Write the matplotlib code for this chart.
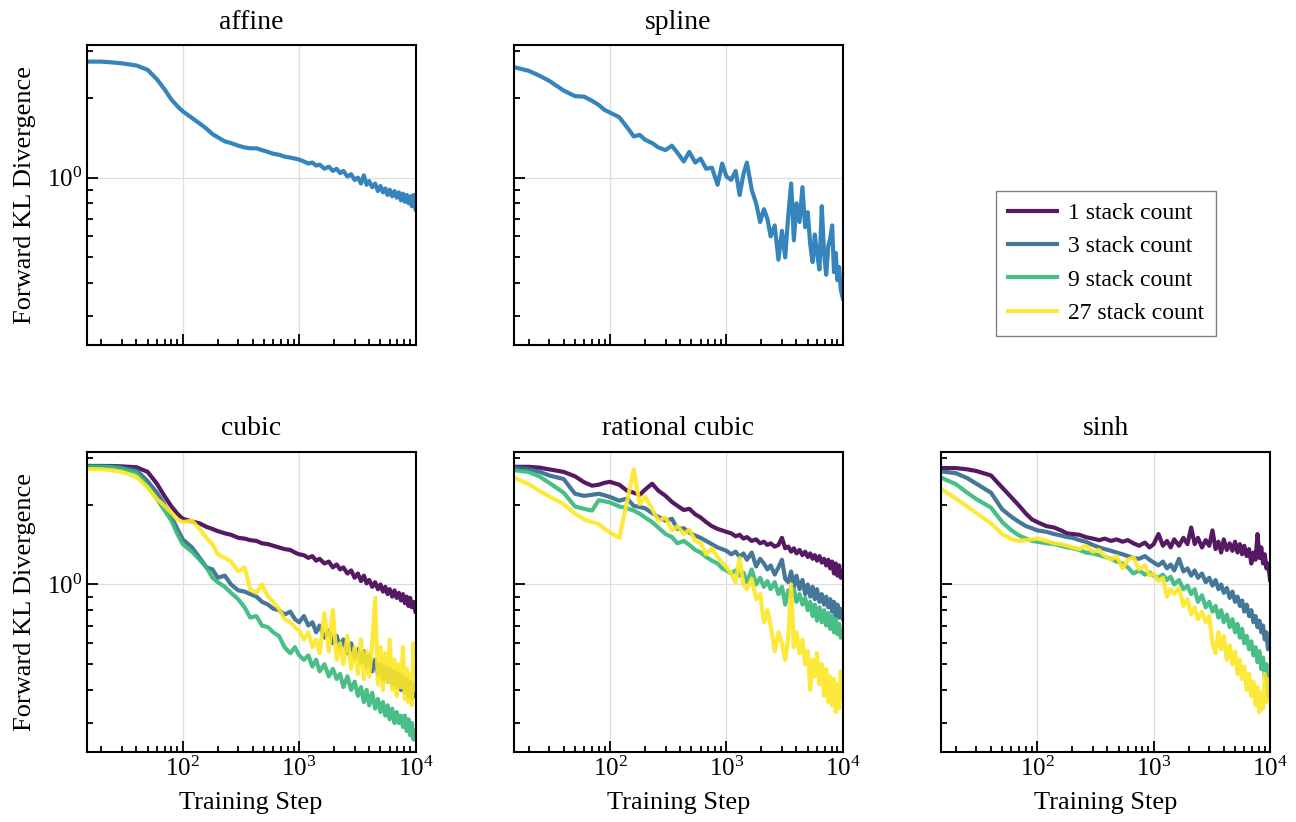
import numpy as np
import matplotlib
matplotlib.use("Agg")
import matplotlib.pyplot as plt

plt.rcParams["font.family"] = "serif"
plt.rcParams["font.serif"] = ["Liberation Serif", "DejaVu Serif"]
plt.rcParams["mathtext.fontset"] = "stix"

# training steps at which the KL was logged
steps = [15, 20, 25, 30, 40, 50, 60, 70, 80, 90, 100,
         120, 140, 160, 180, 200, 230, 260, 300, 340, 380, 430, 480, 540, 600,
         670, 750, 840, 920, 1000,
         1100, 1200, 1300, 1400, 1500, 1650, 1800, 1950, 2100, 2250, 2400, 2600,
         2800, 3000, 3200, 3400, 3600, 3800, 4000, 4250, 4500, 4750, 5000, 5250,
         5500, 5750, 6000, 6300, 6600, 6900, 7200, 7500, 7800, 8100, 8400, 8700,
         9000, 9300, 9600, 10000]

# single-flow baselines
affine = [2.74, 2.74, 2.72, 2.70, 2.65, 2.55, 2.35, 2.15, 1.97, 1.86, 1.78,
          1.68, 1.60, 1.53, 1.46, 1.42, 1.37, 1.35, 1.32, 1.30, 1.29, 1.29, 1.27, 1.25, 1.23,
          1.22, 1.20, 1.19, 1.18, 1.17,
          1.15, 1.13, 1.14, 1.11, 1.12, 1.08, 1.10, 1.06, 1.08, 1.04, 1.06, 1.01,
          1.03, 0.98, 1.00, 0.95, 1.02, 0.94, 0.97, 0.92, 0.95, 0.89, 0.93, 0.88,
          0.91, 0.86, 0.90, 0.85, 0.89, 0.84, 0.88, 0.82, 0.87, 0.81, 0.86, 0.80,
          0.85, 0.78, 0.86, 0.76]
spline = [2.61, 2.53, 2.42, 2.32, 2.13, 2.03, 2.02, 1.95, 1.88, 1.80, 1.76,
          1.69, 1.55, 1.43, 1.45, 1.39, 1.35, 1.30, 1.27, 1.32, 1.24, 1.15, 1.25, 1.14, 1.18,
          1.08, 1.09, 0.94, 1.13, 1.01,
          0.98, 1.06, 0.86, 1.03, 1.14, 0.90, 0.80, 0.68, 0.76, 0.70, 0.60, 0.66,
          0.49, 0.63, 0.50, 0.72, 0.95, 0.58, 0.80, 0.68, 0.92, 0.65, 0.74, 0.56,
          0.48, 0.61, 0.52, 0.45, 0.78, 0.52, 0.43, 0.55, 0.59, 0.66, 0.44, 0.52,
          0.41, 0.46, 0.38, 0.35]

stack_counts = [1, 3, 9, 27]

cubic_1 = [2.80, 2.80, 2.80, 2.79, 2.77, 2.66, 2.40, 2.15, 1.97, 1.85, 1.77,
           1.73, 1.70, 1.65, 1.62, 1.59, 1.56, 1.54, 1.50, 1.49, 1.47, 1.46, 1.43, 1.42, 1.40,
           1.38, 1.36, 1.35, 1.32, 1.30,
           1.29, 1.26, 1.28, 1.23, 1.25, 1.20, 1.22, 1.16, 1.19, 1.14, 1.16, 1.10,
           1.13, 1.06, 1.10, 1.03, 1.08, 1.01, 1.04, 0.98, 1.02, 0.96, 1.00, 0.94,
           0.98, 0.92, 0.96, 0.90, 0.95, 0.89, 0.93, 0.87, 0.92, 0.85, 0.90, 0.83,
           0.89, 0.82, 0.86, 0.79]
cubic_3 = [2.80, 2.80, 2.79, 2.76, 2.70, 2.45, 2.22, 2.00, 1.80, 1.62, 1.48,
           1.38, 1.26, 1.16, 1.14, 1.06, 1.08, 1.00, 0.95, 0.94, 0.92, 0.90, 0.86, 0.84, 0.81,
           0.80, 0.77, 0.79, 0.74, 0.72,
           0.76, 0.70, 0.72, 0.66, 0.70, 0.63, 0.67, 0.60, 0.64, 0.58, 0.62, 0.55,
           0.60, 0.53, 0.57, 0.51, 0.56, 0.49, 0.54, 0.47, 0.52, 0.46, 0.50, 0.44,
           0.49, 0.43, 0.48, 0.42, 0.47, 0.41, 0.46, 0.40, 0.45, 0.39, 0.44, 0.38,
           0.43, 0.37, 0.42, 0.38]
cubic_9 = [2.78, 2.78, 2.77, 2.74, 2.65, 2.35, 2.10, 1.90, 1.74, 1.55, 1.42,
           1.33, 1.24, 1.16, 1.06, 1.02, 0.98, 0.93, 0.88, 0.82, 0.75, 0.76, 0.70, 0.69, 0.66,
           0.64, 0.58, 0.55, 0.58, 0.54,
           0.52, 0.54, 0.49, 0.52, 0.47, 0.50, 0.45, 0.48, 0.44, 0.46, 0.41, 0.45,
           0.40, 0.43, 0.38, 0.41, 0.36, 0.40, 0.35, 0.39, 0.34, 0.37, 0.33, 0.36,
           0.32, 0.35, 0.31, 0.34, 0.30, 0.33, 0.30, 0.32, 0.29, 0.32, 0.28, 0.31,
           0.27, 0.30, 0.26, 0.28]
cubic_27 = [2.73, 2.72, 2.70, 2.66, 2.55, 2.32, 2.10, 1.98, 1.86, 1.76, 1.72,
            1.74, 1.62, 1.50, 1.42, 1.30, 1.26, 1.22, 1.12, 1.16, 0.96, 0.93, 1.00, 0.90, 0.86,
            0.81, 0.74, 0.72, 0.69, 0.67,
            0.62, 0.66, 0.58, 0.62, 0.55, 0.78, 0.56, 0.80, 0.52, 0.60, 0.50, 0.64,
            0.48, 0.58, 0.46, 0.62, 0.44, 0.56, 0.45, 0.60, 0.89, 0.42, 0.58, 0.40,
            0.55, 0.43, 0.62, 0.40, 0.52, 0.38, 0.50, 0.41, 0.58, 0.37, 0.48, 0.36,
            0.46, 0.35, 0.60, 0.40]

rq_1 = [2.78, 2.78, 2.76, 2.72, 2.66, 2.56, 2.43, 2.36, 2.38, 2.42, 2.44,
        2.38, 2.26, 2.22, 2.18, 2.28, 2.40, 2.26, 2.16, 2.05, 1.98, 1.91, 1.93, 1.84, 1.79,
        1.72, 1.66, 1.62, 1.60, 1.58,
        1.56, 1.52, 1.54, 1.49, 1.51, 1.46, 1.48, 1.43, 1.45, 1.41, 1.43, 1.39,
        1.41, 1.50, 1.37, 1.39, 1.33, 1.37, 1.31, 1.35, 1.29, 1.33, 1.27, 1.31,
        1.25, 1.29, 1.23, 1.28, 1.21, 1.25, 1.18, 1.24, 1.15, 1.22, 1.10, 1.20,
        1.08, 1.18, 1.06, 1.12]
rq_3 = [2.76, 2.73, 2.66, 2.58, 2.50, 2.20, 2.16, 2.18, 2.20, 2.17, 2.14,
        2.07, 2.11, 1.98, 1.96, 1.94, 1.86, 1.80, 1.74, 1.77, 1.62, 1.63, 1.57, 1.53, 1.50,
        1.46, 1.42, 1.38, 1.36, 1.34,
        1.30, 1.33, 1.27, 1.31, 1.24, 1.32, 1.17, 1.25, 1.20, 1.14, 1.18, 1.09,
        1.16, 1.24, 1.05, 1.02, 1.12, 0.98, 1.08, 0.96, 1.04, 0.92, 1.00, 0.90,
        0.98, 0.88, 0.96, 0.86, 0.92, 0.84, 0.90, 0.82, 0.88, 0.79, 0.86, 0.76,
        0.84, 0.75, 0.81, 0.74]
rq_9 = [2.70, 2.66, 2.55, 2.42, 2.22, 1.97, 1.93, 1.90, 2.08, 2.06, 2.04,
        1.97, 1.94, 1.90, 1.85, 1.79, 1.72, 1.64, 1.55, 1.51, 1.43, 1.46, 1.41, 1.35, 1.32,
        1.27, 1.23, 1.20, 1.15, 1.13,
        1.10, 1.13, 1.08, 1.11, 1.02, 1.14, 1.00, 1.06, 0.98, 1.03, 0.96, 1.02,
        0.92, 0.98, 0.84, 0.95, 0.90, 0.96, 0.86, 0.92, 0.84, 0.89, 0.80, 0.86,
        0.76, 0.84, 0.73, 0.82, 0.72, 0.80, 0.70, 0.78, 0.68, 0.76, 0.66, 0.74,
        0.65, 0.71, 0.63, 0.66]
rq_27 = [2.53, 2.39, 2.25, 2.15, 2.01, 1.85, 1.76, 1.72, 1.69, 1.62, 1.57,
         1.50, 2.05, 2.72, 2.01, 2.15, 1.93, 1.74, 1.79, 1.60, 1.66, 1.55, 1.61, 1.46, 1.44,
         1.30, 1.37, 1.27, 1.21, 1.16,
         1.10, 1.02, 1.26, 1.00, 0.96, 1.05, 0.88, 0.92, 0.72, 0.80, 0.70, 0.56,
         0.66, 0.60, 0.52, 0.63, 1.00, 0.58, 0.66, 0.55, 0.62, 0.50, 0.56, 0.40,
         0.52, 0.45, 0.55, 0.42, 0.50, 0.38, 0.48, 0.36, 0.45, 0.35, 0.44, 0.33,
         0.42, 0.34, 0.47, 0.37]

sinh_1 = [2.75, 2.75, 2.72, 2.68, 2.58, 2.32, 2.13, 1.98, 1.85, 1.76, 1.72,
          1.66, 1.64, 1.60, 1.56, 1.55, 1.54, 1.51, 1.49, 1.47, 1.49, 1.46, 1.48, 1.45, 1.47,
          1.43, 1.40, 1.44, 1.38, 1.42,
          1.55, 1.40, 1.46, 1.38, 1.48, 1.40, 1.50, 1.42, 1.64, 1.42, 1.50, 1.38,
          1.47, 1.40, 1.60, 1.36, 1.45, 1.32, 1.48, 1.35, 1.43, 1.34, 1.45, 1.32,
          1.42, 1.30, 1.40, 1.28, 1.36, 1.20, 1.32, 1.24, 1.55, 1.26, 1.38, 1.20,
          1.30, 1.15, 1.20, 1.04]
sinh_3 = [2.67, 2.63, 2.52, 2.40, 2.22, 1.92, 1.80, 1.72, 1.66, 1.63, 1.60,
          1.58, 1.55, 1.53, 1.51, 1.50, 1.47, 1.45, 1.41, 1.38, 1.36, 1.34, 1.32, 1.30, 1.28,
          1.26, 1.25, 1.28, 1.24, 1.21,
          1.18, 1.22, 1.15, 1.19, 1.13, 1.25, 1.12, 1.15, 1.08, 1.13, 1.06, 1.10,
          1.02, 1.06, 0.99, 1.04, 0.96, 1.00, 0.93, 0.97, 0.89, 0.94, 0.86, 0.90,
          0.83, 0.87, 0.79, 0.84, 0.76, 0.80, 0.72, 0.76, 0.69, 0.73, 0.66, 0.70,
          0.62, 0.66, 0.57, 0.60]
sinh_9 = [2.53, 2.39, 2.22, 2.10, 1.95, 1.72, 1.60, 1.53, 1.49, 1.46, 1.45,
          1.43, 1.42, 1.40, 1.38, 1.37, 1.35, 1.32, 1.31, 1.29, 1.27, 1.25, 1.22, 1.20, 1.16,
          1.10, 1.13, 1.09, 1.11, 1.08,
          1.06, 1.09, 1.04, 1.07, 1.00, 1.04, 0.96, 0.99, 0.92, 0.96, 0.86, 0.91,
          0.82, 0.86, 0.79, 0.83, 0.75, 0.80, 0.72, 0.77, 0.69, 0.74, 0.66, 0.71,
          0.63, 0.68, 0.60, 0.64, 0.57, 0.61, 0.54, 0.58, 0.51, 0.56, 0.48, 0.53,
          0.45, 0.50, 0.38, 0.45]
sinh_27 = [2.29, 2.11, 1.97, 1.86, 1.70, 1.55, 1.48, 1.46, 1.47, 1.48, 1.49,
           1.46, 1.43, 1.42, 1.40, 1.38, 1.36, 1.40, 1.33, 1.35, 1.28, 1.24, 1.28, 1.15, 1.24,
           1.27, 1.14, 1.18, 1.08, 1.10,
           1.03, 1.06, 0.90, 0.96, 0.92, 0.97, 0.83, 0.88, 0.77, 0.82, 0.74, 0.79,
           0.72, 0.76, 0.60, 0.55, 0.66, 0.57, 0.64, 0.52, 0.59, 0.50, 0.56, 0.46,
           0.52, 0.44, 0.49, 0.40, 0.46, 0.38, 0.43, 0.35, 0.41, 0.33, 0.39, 0.34,
           0.46, 0.36, 0.44, 0.38]

panels = {
    "cubic": [cubic_1, cubic_3, cubic_9, cubic_27],
    "rational cubic": [rq_1, rq_3, rq_9, rq_27],
    "sinh": [sinh_1, sinh_3, sinh_9, sinh_27],
}

colors = plt.cm.viridis(np.linspace(0, 1, len(stack_counts)))
LW = 3.0

fig, axes = plt.subplots(2, 3, figsize=(12.96, 8.22), dpi=100, sharex=True, sharey=True)
fig.subplots_adjust(left=0.067, right=0.98, top=0.945, bottom=0.085,
                    wspace=0.30, hspace=0.356)


def style(ax):
    ax.set_xscale("log")
    ax.set_yscale("log")
    ax.grid(True, which="major", color="#dddddd", linewidth=0.9)
    ax.tick_params(which="both", direction="in", labelsize=18, width=1.3)
    ax.tick_params(which="major", length=8)
    ax.tick_params(which="minor", length=4)
    ax.yaxis.set_minor_formatter(plt.NullFormatter())
    for s in ax.spines.values():
        s.set_linewidth(1.5)


axes[0, 0].plot(steps, affine, color="tab:blue", alpha=0.9, linewidth=LW)
axes[0, 0].set_title("affine", fontsize=20, pad=12)
axes[0, 1].plot(steps, spline, color="tab:blue", alpha=0.9, linewidth=LW)
axes[0, 1].set_title("spline", fontsize=20, pad=12)

for ax, (name, runs) in zip(axes[1], panels.items()):
    for n, vals, c in zip(stack_counts, runs, colors):
        ax.plot(steps, vals, color=c, alpha=0.9, linewidth=LW, label=f"{n} stack count")
    ax.set_title(name, fontsize=20, pad=12)
    ax.set_xlabel("Training Step", fontsize=19, labelpad=8)

for ax in axes.flat:
    style(ax)

for ax in axes[:, 0]:
    ax.set_ylabel("Forward KL Divergence", fontsize=19, labelpad=8)

axes[0, 0].set_xlim(15, 1e4)
axes[0, 0].set_ylim(0.233, 3.16)

# legend lives in the empty top-right slot
axes[0, 2].axis("off")
handles, labels = axes[1, 0].get_legend_handles_labels()
axes[0, 2].legend(handles, labels, loc="lower center", fontsize=17, fancybox=False,
                  edgecolor="#808080", framealpha=1, handlelength=2.1,
                  handletextpad=0.45, borderpad=0.5, borderaxespad=0.4)

fig.savefig("out.png", dpi=100)
